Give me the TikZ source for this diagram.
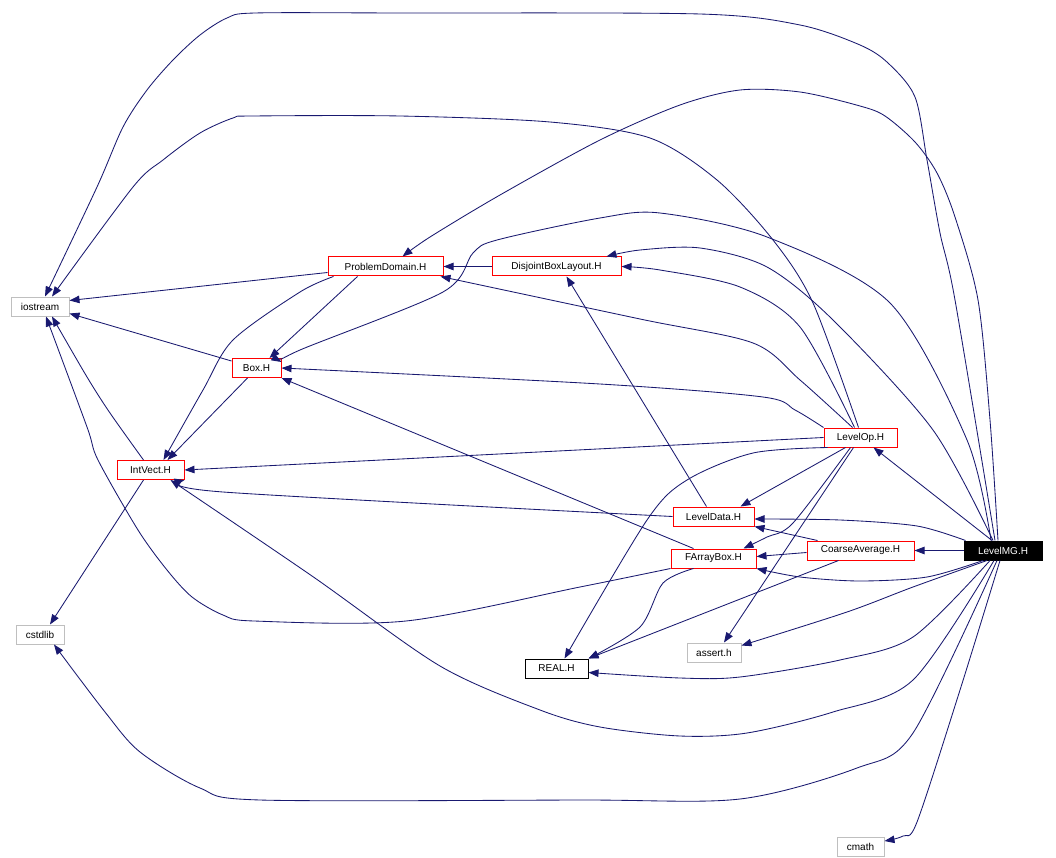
\documentclass[tikz,border=0pt]{standalone}
\usepackage{fontspec}
\setmainfont{Liberation Sans}
\usetikzlibrary{arrows.meta,calc}
\definecolor{edgec}{RGB}{25,25,112}
\definecolor{grayb}{RGB}{191,191,191}
\begin{document}
\begin{tikzpicture}[x=1pt,y=-1pt,
  file/.style={draw, rectangle, inner sep=0pt, minimum height=19pt, font=\fontsize{10}{12}\selectfont, line width=1pt},
  redf/.style={file, draw=red},
  grayf/.style={file, draw=grayb},
  blackf/.style={file, draw=black},
  mainf/.style={file, draw=black, fill=black, text=white},
  dep/.style={draw=edgec, line width=0.85pt, -{Triangle[length=10pt,width=7.5pt]}},
  sm/.style={smooth, tension=0.5}
]
\fill[white] (0,0) rectangle (1056,858);
\useasboundingbox (0,0) rectangle (1056,858);

% nodes
\node[grayf, minimum width=58pt] (iostream) at (40,306.5) {iostream};
\node[redf, minimum width=115pt] (PD) at (385.5,266.5) {ProblemDomain.H};
\node[redf, minimum width=129pt] (DBL) at (556.5,266.5) {DisjointBoxLayout.H};
\node[redf, minimum width=49pt] (Box) at (256.5,368) {Box.H};
\node[redf, minimum width=67pt] (IV) at (150.5,470) {IntVect.H};
\node[redf, minimum width=73pt] (LO) at (860.5,437.5) {LevelOp.H};
\node[redf, minimum width=81pt] (LD) at (713.5,516.5) {LevelData.H};
\node[redf, minimum width=85pt] (FAB) at (713.5,558.5) {FArrayBox.H};
\node[redf, minimum width=107pt] (CA) at (860.5,550.5) {CoarseAverage.H};
\node[mainf, minimum width=78pt] (LMG) at (1003,550.5) {LevelMG.H};
\node[blackf, minimum width=63pt] (REAL) at (556.5,668.5) {REAL.H};
\node[grayf, minimum width=54pt] (assert) at (714,652.5) {assert.h};
\node[grayf, minimum width=48pt] (cstdlib) at (40,634.5) {cstdlib};
\node[grayf, minimum width=47pt] (cmath) at (860.5,847) {cmath};

% LevelMG edges
\draw[dep] ($(LMG.north)+(-11,0)$) -- ($(LO.south)+(13,0)$);
\draw[dep] plot[sm] coordinates {($(LMG.north west)+(2,0)$) (917,526) (840,520) ($(LD.east)+(0,2.5)$)};
\draw[dep] (LMG.west) -- (CA.east);
\draw[dep] plot[sm] coordinates {($(LMG.south)+(-20,0)$) (927,577) (860,581) (800,577) (FAB.south east)};
\draw[dep] plot[sm] coordinates {($(LMG.south)+(-16,0)$) (913,587) (847,612) ($(assert.east)+(0,-7)$)};
\draw[dep] plot[sm] coordinates {($(LMG.south)+(-13,0)$) (913,637) (840,660) (740,677) (680,678) ($(REAL.east)+(0,4)$)};
\draw[dep] plot[sm] coordinates {($(LMG.south)+(-3,0)$) (960,690) (917,822) (903,836) ($(cmath.east)+(0,-6)$)};
\draw[dep] plot[sm] coordinates {($(LMG.south)+(-6,0)$) (913,733) (857,768) (740,799) (580,800) (260,800) (200,788) (140,752) (105,712) ($(cstdlib.south)+(14,0)$)};
\draw[dep] plot[sm] coordinates {($(LMG.south)+(-9,0)$) (913,680) (833,712) (747,733) (680,736) (600,727) (540,710) (440,666) (312,576) ($(IV.south)+(20,0)$)};
\draw[dep] plot[sm] coordinates {($(LMG.north)+(-8,0)$) (955,300) (940,233) (927,160) (915,97) (888,63) (860,45) (800,25) (700,14) (400,13) (255,13) (227,18) (200,35) (173,60) (147,90) (123,127) (97,187) ($(iostream.north)+(5,0)$)};
\draw[dep] plot[sm] coordinates {($(LMG.north)+(-5,0)$) (990,420) (978,300) (955,217) (937,173) (915,142) (885,116) (860,106) (800,92) (740,90) (680,105) (600,140) (500,195) (430,237) ($(PD.north)+(17,0)$)};
\draw[dep] plot[sm] coordinates {($(LMG.north)+(-10,0)$) (933,430) (833,320) (767,267) (700,248) (640,250) ($(DBL.north)+(50,0)$)};
\draw[dep] plot[sm] coordinates {($(LMG.north)+(-12,0)$) (967,440) (890,303) (767,237) (660,213) (600,218) (497,240) (473,253) (443,292) (300,350) ($(Box.east)+(0,-6)$)};

% LevelOp edges
\draw[dep] plot[sm] coordinates {($(LO.north)+(-2,0)$) (813,303) (773,240) (717,180) (650,138) (550,122) (400,116) (253,116) (233,118) (200,133) (163,160) (133,187) ($(iostream.north)+(12,0)$)};
\draw[dep] plot[sm] coordinates {($(LO.north)+(-6,0)$) (800,327) (740,287) (660,270) (DBL.east)};
\draw[dep] plot[sm] coordinates {($(LO.north)+(-8,0)$) (800,380) (753,343) (640,319) ($(PD.south east)+(-3,0)$)};
\draw[dep] plot[sm] coordinates {(LO.north west) (795,410) (763,397) (600,384) (Box.east)};
\draw[dep] (LO.west) -- (IV.east);
\draw[dep] ($(LO.south)+(-15,0)$) -- ($(LD.north)+(27,0)$);
\draw[dep] plot[sm] coordinates {($(LO.south)+(-10,0)$) (793,523) (767,537) ($(FAB.north)+(30,0)$)};
\draw[dep] ($(LO.south)+(-7,0)$) -- ($(assert.north)+(10,0)$);
\draw[dep] plot[sm] coordinates {($(LO.south)+(-33,0)$) (753,453) (687,480) (647,520) ($(REAL.north)+(8,0)$)};

% LevelData edges
\draw[dep] ($(LD.north)+(-7,0)$) -- ($(DBL.south)+(10,0)$);
\draw[dep] plot[sm] coordinates {(LD.west) (223,492) (IV.south east)};

% FArrayBox edges
\draw[dep] ($(FAB.north)+(-20,0)$) -- (Box.south east);
\draw[dep] plot[sm] coordinates {($(FAB.south)+(-20,0)$) (663,583) (640,627) (REAL.north east)};
\draw[dep] plot[sm] coordinates {(FAB.south west) (580,587) (406,621) (254,621) (223,615) (192,597) (167,570) (138,530) (98,460) (87,427) ($(iostream.south)+(6,0)$)};

% CoarseAverage edges
\draw[dep] ($(CA.north)+(-43,0)$) -- (LD.south east);
\draw[dep] ($(CA.west)+(0,2)$) -- ($(FAB.east)+(0,-2)$);
\draw[dep] ($(CA.south)+(-22,0)$) -- (REAL.north east);

% ProblemDomain edges
\draw[dep] ($(PD.west)+(0,6)$) -- ($(iostream.east)+(0,-6)$);
\draw[dep] ($(PD.south)+(-28,0)$) -- ($(Box.north)+(13,0)$);
\draw[dep] plot[sm] coordinates {($(PD.south)+(-52,0)$) (300,292) (233,340) (203,390) ($(IV.north)+(13,0)$)};

% DisjointBoxLayout edges
\draw[dep] (DBL.west) -- (PD.east);

% Box edges
\draw[dep] ($(Box.west)+(0,-7)$) -- ($(iostream.east)+(0,7)$);
\draw[dep] ($(Box.south)+(-9,0)$) -- ($(IV.north)+(17,0)$);

% IntVect edges
\draw[dep] plot[sm] coordinates {($(IV.north)+(-7,0)$) (110,413) (87,377) ($(iostream.south)+(12,0)$)};
\draw[dep] ($(IV.south)+(-7,0)$) -- ($(cstdlib.north)+(10,0)$);
\end{tikzpicture}
\end{document}
